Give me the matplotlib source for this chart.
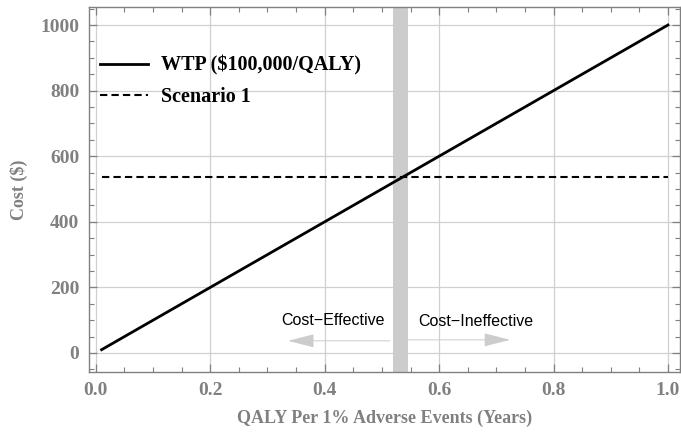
import numpy as np
import matplotlib.pyplot as plt
from matplotlib.ticker import MultipleLocator

# data
wtp_x = [0.01, 1.0]
wtp_y = [10, 1000]
scen_x = [0.01, 1.0]
scen_y = [537, 537]
band_x = (0.52, 0.545)
ce_arrow = (0.514, 0.336, 37)    # start x, end x, y
ci_arrow = (0.545, 0.724, 40)
ce_label = (0.414, 100, 'Cost\u2212Effective')
ci_label = (0.664, 97, 'Cost\u2212Ineffective')

gray = '#808080'
plt.rcParams['font.family'] = ['Liberation Serif', 'DejaVu Serif']
plt.rcParams['font.weight'] = 'bold'
plt.rcParams['axes.labelweight'] = 'bold'

fig = plt.figure(figsize=(6.81, 4.36), dpi=100)
ax = fig.add_axes([0.1307, 0.1468, 0.8678, 0.8372])

ax.axvspan(*band_x, color='#cccccc', lw=0, zorder=1)
ax.plot(wtp_x, wtp_y, color='black', lw=2, label='WTP ($100,000/QALY)', zorder=3)
ax.plot(scen_x, scen_y, color='black', lw=1.5, ls=(0, (3.5, 2)), label='Scenario 1', zorder=3)

# direction arrows
for x0, x1, y in (ce_arrow, ci_arrow):
    ax.annotate('', xy=(x1, y), xytext=(x0, y),
                arrowprops=dict(arrowstyle='-|>,head_length=1.65,head_width=0.42',
                                color='#cccccc', lw=0.7, shrinkA=0, shrinkB=0), zorder=2)
for x, y, s in (ce_label, ci_label):
    ax.text(x, y, s, ha='center', va='center', fontsize=11.5, fontweight='normal',
            family=['Liberation Sans', 'DejaVu Sans'], color='black')

ax.set_xlim(-0.012, 1.021)
ax.set_ylim(-58, 1055)
ax.xaxis.set_major_locator(MultipleLocator(0.2))
ax.xaxis.set_minor_locator(MultipleLocator(0.05))
ax.yaxis.set_major_locator(MultipleLocator(200))
ax.yaxis.set_minor_locator(MultipleLocator(50))
ax.xaxis.set_major_formatter(lambda v, p: f'{v:.1f}')

ax.grid(True, which='major', color='#d0d0d0', lw=0.9, zorder=0)
ax.set_axisbelow(True)
ax.get_xgridlines()[0].set_visible(False)

ax.tick_params(which='both', direction='in', top=True, right=True, color=gray,
               labelcolor=gray, labelsize=14)
ax.tick_params(which='major', length=6, width=0.9, pad=7)
ax.tick_params(which='minor', length=3.5, width=0.8)
for lab in ax.get_xticklabels() + ax.get_yticklabels():
    lab.set_fontweight('bold')
for sp in ax.spines.values():
    sp.set_color(gray)
    sp.set_linewidth(1)

ax.set_xlabel('QALY Per 1% Adverse Events (Years)', fontsize=13, color=gray,
              fontweight='bold', labelpad=8)
ax.set_ylabel('Cost ($)', fontsize=13, color=gray, fontweight='bold', labelpad=8.5)

leg = ax.legend(loc='upper left', bbox_to_anchor=(-0.005, 0.905), frameon=False,
                prop={'size': 14.5, 'weight': 'bold'}, handlelength=2.4,
                handletextpad=0.6, labelspacing=0.55, borderaxespad=0.3)

fig.savefig('out.png', dpi=100)
